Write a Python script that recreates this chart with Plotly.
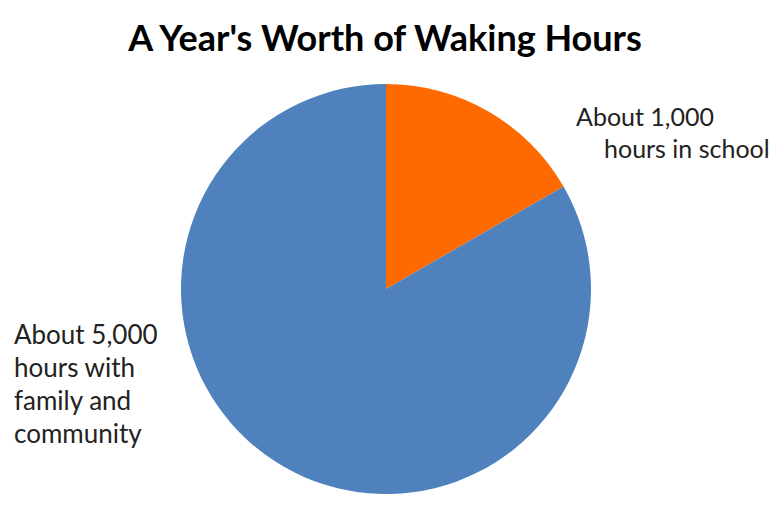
import plotly.graph_objects as go

# Data
categories = ["School", "Family and community"]
hours = [1000, 5000]
colors = ["#FF6A00", "#4F81BD"]
title_text = "A Year's Worth of Waking Hours"
school_label_lines = ["About 1,000", "hours in school"]
family_label_lines = ["About 5,000", "hours with", "family and", "community"]

OFF = 8  # page body margin offset compensation
W, H = 779 - OFF, 521 - OFF


def px_x(v):
    return (v - OFF) / W


def px_y(v):
    return 1 - (v - OFF) / H


fig = go.Figure()
fig.add_trace(go.Pie(
    labels=categories,
    values=hours,
    sort=False,
    direction="clockwise",
    rotation=0,
    marker=dict(colors=colors, line=dict(width=0)),
    textinfo="none",
    hoverinfo="label+value",
    showlegend=False,
    domain=dict(x=[px_x(181), px_x(591)], y=[px_y(494), px_y(84)]),
))

font_school = dict(family="Lato, 'Open Sans', sans-serif", size=25, color="#222222")
font_family = dict(family="Lato, 'Open Sans', sans-serif", size=26, color="#222222")

school_pos = [(574, 116), (602, 148)]
for line, (px, py) in zip(school_label_lines, school_pos):
    fig.add_annotation(x=px_x(px), y=px_y(py), xref="paper", yref="paper",
                       text=line, showarrow=False, xanchor="left", yanchor="middle",
                       font=font_school)

family_pos = [(12, 334), (12, 367), (12, 400), (12, 433)]
for line, (px, py) in zip(family_label_lines, family_pos):
    fig.add_annotation(x=px_x(px), y=px_y(py), xref="paper", yref="paper",
                       text=line, showarrow=False, xanchor="left", yanchor="middle",
                       font=font_family)

fig.update_layout(
    width=W, height=H,
    margin=dict(l=0, r=0, t=0, b=0),
    paper_bgcolor="white",
    plot_bgcolor="white",
    title=dict(text="<b>" + title_text + "</b>", x=px_x(385), xanchor="center",
               y=px_y(38), yanchor="middle",
               font=dict(family="Lato, 'Open Sans', sans-serif", size=36, color="#000000")),
)

fig.write_html("out.html")
